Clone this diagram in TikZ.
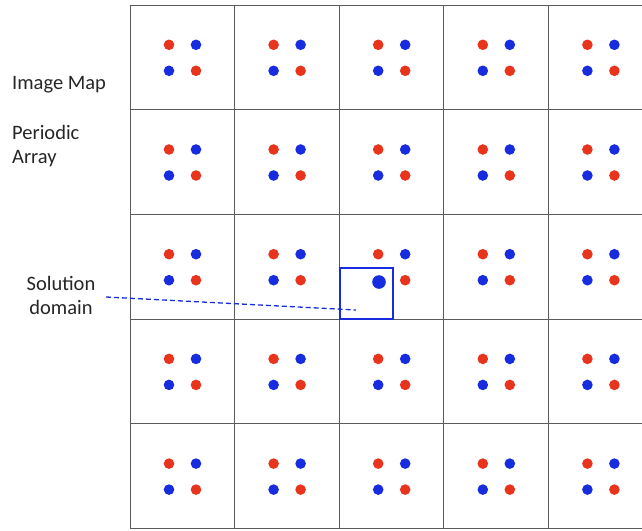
\documentclass[tikz,border=0pt]{standalone}
\usepackage{fontspec}
\setmainfont{Carlito}
\definecolor{dotred}{RGB}{232,52,28}
\definecolor{dotblue}{RGB}{22,44,222}
\definecolor{gridgray}{RGB}{90,90,90}
\begin{document}
\begin{tikzpicture}[x=1pt,y=-1pt,
  gridline/.style={draw=gridgray,line width=1pt},
  reddot/.style={fill=dotred},
  bluedot/.style={fill=dotblue},
  lbl/.style={font=\fontsize{20.5}{24}\selectfont,text=black!85,inner sep=0pt},
  domainbox/.style={draw=dotblue,line width=2pt},
  leader/.style={draw=dotblue,dashed,line width=1.3pt,dash pattern=on 5pt off 3pt}]
\useasboundingbox (0,0) rectangle (642,530);
\fill[white] (0,0) rectangle (642,530);
\begin{scope}
\clip (0,0) rectangle (642,530);
% grid
\foreach \i in {0,...,5} {
  \draw[gridline] ({130+104.6*\i},5) -- ({130+104.6*\i},529);
}
\foreach \j in {0,...,5} {
  \draw[gridline] (130,{5+104.7*\j}) -- (660,{5+104.7*\j});
}
% dots
\foreach \i in {0,...,4} {
  \foreach \j in {0,...,4} {
    \pgfmathsetmacro{\cx}{182.5+104.6*\i}
    \pgfmathsetmacro{\cy}{57.8+104.7*\j}
    \fill[reddot] (\cx-13.5,\cy-13) circle (5.3);
    \fill[bluedot] (\cx+13.5,\cy-13) circle (5.3);
    \fill[reddot] (\cx+13.5,\cy+13) circle (5.3);
    \ifnum\i=2 \ifnum\j=2 \else \fill[bluedot] (\cx-13.5,\cy+13) circle (5.3); \fi
    \else \fill[bluedot] (\cx-13.5,\cy+13) circle (5.3); \fi
  }
}
\end{scope}
% enlarged particle in solution domain
\fill[bluedot] (379,282) circle (6.8);
% solution domain box
\node[domainbox,minimum width=53pt,minimum height=51pt,inner sep=0pt] (dom) at (366.5,293.5) {};
\coordinate (tip) at (356,310);
% labels
\node[lbl,anchor=west] (imgmap) at (12,85) {Image Map};
\node[lbl,anchor=west,align=left] (periodic) at (12,146) {Periodic\\Array};
\node[lbl,align=center] (soldom) at (61,295) {Solution\\domain};
\coordinate (lstart) at (106,297);
\draw[leader] (lstart) -- (tip);
\end{tikzpicture}
\end{document}
